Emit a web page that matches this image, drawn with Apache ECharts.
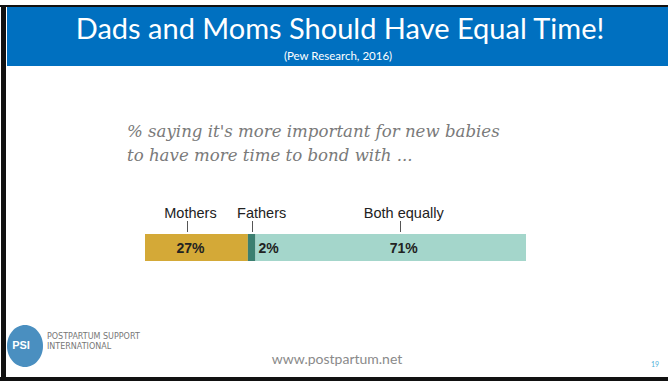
<!DOCTYPE html>
<html>
<head>
<meta charset="utf-8">
<script src="https://cdn.jsdelivr.net/npm/echarts@6/dist/echarts.min.js"></script>
<style>
html,body{margin:0;padding:0;background:#fff;}
#c{width:668px;height:381px;}
</style>
</head>
<body>
<div id="c"></div>
<script>
// ---- data ----
const categories = ['Mothers', 'Fathers', 'Both equally'];
const values = [27, 2, 71];
const valueLabels = ['27%', '2%', '71%'];
const colors = ['#D4A937', '#3B7F70', '#A4D6CB'];
const titleText = 'Dads and Moms Should Have Equal Time!';
const sourceText = '(Pew Research, 2016)';
const questionLines = ["% saying it's more important for new babies", 'to have more time to bond with ...'];

const chart = echarts.init(document.getElementById('c'), null, {renderer: 'svg'});

const labelOffsets = [[-6, 0], [0, 0], [13, 0]];
const series = categories.map((name, i) => ({
  name: name,
  type: 'bar',
  stack: 'total',
  barWidth: '100%',
  data: [values[i]],
  itemStyle: {color: colors[i]},
  label: {
    show: true,
    position: i === 1 ? 'right' : 'inside',
    distance: 3,
    offset: labelOffsets[i],
    formatter: () => valueLabels[i],
    fontFamily: 'Liberation Sans, Arial, sans-serif',
    fontSize: 14,
    fontWeight: 'bold',
    color: '#222'
  },
  silent: true
}));

const option = {
  animation: false,
  grid: {left: 145, top: 234, width: 381, height: 27},
  xAxis: {type: 'value', min: 0, max: 100, show: false},
  yAxis: {type: 'category', data: ['all'], show: false},
  series: series,
  graphic: [
    // frame
    {type: 'rect', shape: {x: 0, y: 5, width: 668, height: 2}, style: {fill: '#111'}},
    {type: 'rect', shape: {x: 1, y: 5, width: 5, height: 376}, style: {fill: '#111'}},
    {type: 'rect', shape: {x: 0, y: 377, width: 668, height: 4}, style: {fill: '#111'}},
    // header
    {type: 'rect', shape: {x: 7, y: 7, width: 661, height: 59}, style: {fill: '#0070C0'}},
    {type: 'text', x: 340, y: 27, style: {text: titleText, fill: '#fff', font: '29px Lato, sans-serif', textAlign: 'center', textVerticalAlign: 'middle'}},
    {type: 'text', x: 338, y: 55, style: {text: sourceText, fill: '#fff', font: '11.5px Lato, sans-serif', textAlign: 'center', textVerticalAlign: 'middle'}},
    // question
    {type: 'text', x: 127, y: 131, style: {text: questionLines[0], fill: '#7a7a7a', font: 'italic 16.6px "DejaVu Serif", serif', textAlign: 'left', textVerticalAlign: 'middle'}},
    {type: 'text', x: 127, y: 155, style: {text: questionLines[1], fill: '#7a7a7a', font: 'italic 16.6px "DejaVu Serif", serif', textAlign: 'left', textVerticalAlign: 'middle'}},
    // footer logo
    {type: 'ellipse', shape: {cx: 25, cy: 346, rx: 18, ry: 21}, style: {fill: '#4A8FC0'}},
    {type: 'text', x: 21, y: 345, style: {text: 'PSI', fill: '#fff', font: 'bold 11px "Liberation Sans", sans-serif', textAlign: 'center', textVerticalAlign: 'middle'}},
    {type: 'text', x: 47, y: 336, style: {text: 'POSTPARTUM SUPPORT', fill: '#777', font: '8px "DejaVu Sans", sans-serif', textAlign: 'left', textVerticalAlign: 'middle'}},
    {type: 'text', x: 47, y: 346, style: {text: 'INTERNATIONAL', fill: '#777', font: '8px "DejaVu Sans", sans-serif', textAlign: 'left', textVerticalAlign: 'middle'}},
    {type: 'text', x: 337, y: 358, style: {text: 'www.postpartum.net', fill: '#8a8a8a', font: '14px Lato, sans-serif', textAlign: 'center', textVerticalAlign: 'middle'}},
    {type: 'text', x: 655, y: 364, style: {text: '19', fill: '#4FB3D9', font: '7px Lato, sans-serif', textAlign: 'center', textVerticalAlign: 'middle'}}
  ]
};
chart.setOption(option);

// category labels with tick lines above each segment, positioned via the axis scale
const tickOffsets = [-9, 0, 9];
const textOffsets = [-6, 10, 13];
let cum = 0;
const extra = [];
categories.forEach((name, i) => {
  const mid = cum + values[i] / 2;
  cum += values[i];
  const p = chart.convertToPixel({gridIndex: 0}, [mid, 0]);
  const top = chart.convertToPixel({gridIndex: 0}, [0, 0])[1] - 13.5;
  const tx = Math.round(p[0] + tickOffsets[i]) + 0.5;
  extra.push({type: 'line', shape: {x1: tx, y1: top - 13, x2: tx, y2: top - 2}, style: {stroke: '#555', lineWidth: 1}});
  extra.push({type: 'text', x: p[0] + textOffsets[i], y: top - 21, style: {text: name, fill: '#222', font: '14.5px "Liberation Sans", Arial, sans-serif', textAlign: 'center', textVerticalAlign: 'middle'}});
});
chart.setOption({graphic: option.graphic.concat(extra)});
</script>
</body>
</html>
